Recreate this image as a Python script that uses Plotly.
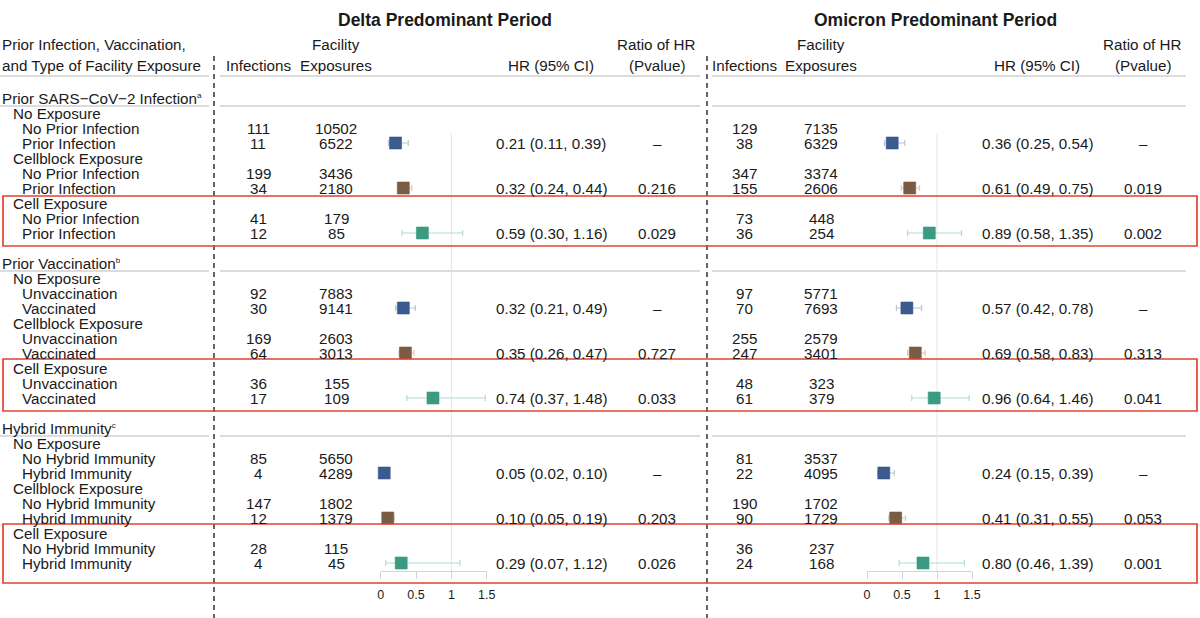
import plotly.graph_objects as go

# ---------------- data ----------------
block_titles = ["Prior SARS−CoV−2 Infection", "Prior Vaccination", "Hybrid Immunity"]
block_sups = ["a", "b", "c"]
exposure_types = ["No Exposure", "Cellblock Exposure", "Cell Exposure"]
level_labels = [["No Prior Infection", "Prior Infection"],
                ["Unvaccination", "Vaccinated"],
                ["No Hybrid Immunity", "Hybrid Immunity"]]

delta_infections = [[111, 11, 199, 34, 41, 12],
                    [92, 30, 169, 64, 36, 17],
                    [85, 4, 147, 12, 28, 4]]
delta_exposures = [[10502, 6522, 3436, 2180, 179, 85],
                   [7883, 9141, 2603, 3013, 155, 109],
                   [5650, 4289, 1802, 1379, 115, 45]]
delta_hr = [[0.21, 0.32, 0.59], [0.32, 0.35, 0.74], [0.05, 0.10, 0.29]]
delta_lo = [[0.11, 0.24, 0.30], [0.21, 0.26, 0.37], [0.02, 0.05, 0.07]]
delta_hi = [[0.39, 0.44, 1.16], [0.49, 0.47, 1.48], [0.10, 0.19, 1.12]]
delta_ratio = [["–", "0.216", "0.029"], ["–", "0.727", "0.033"], ["–", "0.203", "0.026"]]

omicron_infections = [[129, 38, 347, 155, 73, 36],
                      [97, 70, 255, 247, 48, 61],
                      [81, 22, 190, 90, 36, 24]]
omicron_exposures = [[7135, 6329, 3374, 2606, 448, 254],
                     [5771, 7693, 2579, 3401, 323, 379],
                     [3537, 4095, 1702, 1729, 237, 168]]
omicron_hr = [[0.36, 0.61, 0.89], [0.57, 0.69, 0.96], [0.24, 0.41, 0.80]]
omicron_lo = [[0.25, 0.49, 0.58], [0.42, 0.58, 0.64], [0.15, 0.31, 0.46]]
omicron_hi = [[0.54, 0.75, 1.35], [0.78, 0.83, 1.46], [0.39, 0.55, 1.39]]
omicron_ratio = [["–", "0.019", "0.002"], ["–", "0.313", "0.041"], ["–", "0.053", "0.001"]]

tick_vals = [0, 0.5, 1, 1.5]
tick_text = ["0", "0.5", "1", "1.5"]

# ---------------- styles ----------------
W, H = 1200, 618
FONT = "Liberation Sans, Arial, Helvetica, sans-serif"
TXT = "#1a1a1a"
BODY = 15.2
marker_colors = ["#3b5a8e", "#7a5c44", "#3b9a82"]
ci_colors = ["#b9c5d6", "#dcc8b0", "#b3dcd1"]
grid_gray = "#dcdcdc"
red = "#e4432e"


def row_y(k):
    return 98 + 15 * k


periods = [
    dict(title="Delta Predominant Period", title_x=445, inf_x=258, exp_x=336, hr_x=551, ratio_x=657,
         infections=delta_infections, exposures=delta_exposures, hr=delta_hr, lo=delta_lo, hi=delta_hi,
         ratio=delta_ratio, axis="x"),
    dict(title="Omicron Predominant Period", title_x=935, inf_x=744, exp_x=821, hr_x=1037, ratio_x=1143,
         infections=omicron_infections, exposures=omicron_exposures, hr=omicron_hr, lo=omicron_lo, hi=omicron_hi,
         ratio=omicron_ratio, axis="x2"),
]

fig = go.Figure()
annotations = []
shapes = []


def text(x, y, s, anchor="center", size=BODY, bold=False):
    annotations.append(dict(
        x=x / W, xref="paper", y=y, yref="y", text=f"<b>{s}</b>" if bold else s,
        showarrow=False, xanchor=anchor, yanchor="middle", borderpad=0,
        font=dict(family=FONT, size=size, color=TXT)))


# left headers
text(1, 44, "Prior Infection, Vaccination,", "left")
text(1, 65, "and Type of Facility Exposure", "left")

# left labels
for b in range(3):
    base = b * 11
    text(1, row_y(base),
         f"{block_titles[b]}<sup><span style='font-size:8px'>{block_sups[b]}</span></sup>", "left")
    for g in range(3):
        text(12, row_y(base + 1 + g * 3), exposure_types[g], "left")
        text(21, row_y(base + 2 + g * 3), level_labels[b][0], "left")
        text(21, row_y(base + 3 + g * 3), level_labels[b][1], "left")

for p in periods:
    text(p["title_x"], 20, p["title"], size=17.5, bold=True)
    text(p["exp_x"], 44, "Facility")
    text(p["inf_x"], 65, "Infections")
    text(p["exp_x"], 65, "Exposures")
    text(p["hr_x"], 65, "HR (95% CI)")
    text(p["ratio_x"] - 1, 44, "Ratio of HR")
    text(p["ratio_x"], 65, "(Pvalue)")
    for b in range(3):
        base = b * 11
        for g in range(3):
            for j in range(2):
                k = base + 2 + g * 3 + j
                text(p["inf_x"], row_y(k), str(p["infections"][b][g * 2 + j]))
                text(p["exp_x"], row_y(k), str(p["exposures"][b][g * 2 + j]))
            k = base + 3 + g * 3
            hr, lo, hi = p["hr"][b][g], p["lo"][b][g], p["hi"][b][g]
            text(p["hr_x"], row_y(k), f"{hr:.2f} ({lo:.2f}, {hi:.2f})")
            text(p["ratio_x"], row_y(k), p["ratio"][b][g])

    # forest markers
    for g in range(3):
        xs = [p["hr"][b][g] for b in range(3)]
        ys = [row_y(b * 11 + 3 + g * 3) for b in range(3)]
        plus = [p["hi"][b][g] - p["hr"][b][g] for b in range(3)]
        minus = [p["hr"][b][g] - p["lo"][b][g] for b in range(3)]
        fig.add_trace(go.Scatter(
            x=xs, y=ys, mode="markers", xaxis=p["axis"], yaxis="y",
            marker=dict(symbol="square", size=12, color=marker_colors[g],
                        line=dict(width=0.6, color=marker_colors[g])),
            error_x=dict(type="data", array=plus, arrayminus=minus, symmetric=False,
                         color=ci_colors[g], thickness=1.2, width=3),
            cliponaxis=False, showlegend=False, hoverinfo="skip"))

    # reference line at HR = 1
    shapes.append(dict(type="line", xref=p["axis"], yref="y", x0=1, x1=1, y0=133, y1=571,
                       line=dict(color="#e6e6e6", width=1), layer="below"))

# gray separator lines
for y in [76, 106, 271, 436]:
    for xa, xb in [(0, 209), (220, 700), (712, 1186)]:
        shapes.append(dict(type="line", xref="paper", yref="y", x0=xa / W, x1=xb / W, y0=y, y1=y,
                           line=dict(color=grid_gray, width=2), layer="below"))

# dashed vertical dividers
for x in [214, 707]:
    shapes.append(dict(type="line", xref="paper", yref="y", x0=x / W, x1=x / W, y0=56, y1=618,
                       line=dict(color="#333333", width=1.5, dash="5px,4px")))

# red highlight boxes around cell exposure groups
for y0, y1 in [(196, 246), (359, 411), (524, 583)]:
    shapes.append(dict(type="rect", xref="paper", yref="y", x0=3 / W, x1=1197 / W, y0=y0, y1=y1,
                       line=dict(color=red, width=1.7), fillcolor="rgba(0,0,0,0)"))

axis_common = dict(range=[0, 1.5], anchor="free", position=1 - 571 / H, showgrid=False, zeroline=False,
                   showline=True, linecolor="#cfd6da", linewidth=1, ticks="outside", ticklen=7,
                   tickcolor="#cfd6da", tickwidth=1, tickvals=tick_vals, ticktext=tick_text,
                   tickfont=dict(family=FONT, size=12.5, color=TXT), ticklabelstandoff=5, fixedrange=True)

fig.update_layout(
    width=W, height=H, margin=dict(l=0, r=0, t=0, b=0, autoexpand=False),
    autosize=False,
    paper_bgcolor="white", plot_bgcolor="rgba(0,0,0,0)",
    xaxis=dict(domain=[380.7 / W, 486.7 / W], **axis_common),
    xaxis2=dict(domain=[867 / W, 972 / W], **axis_common),
    yaxis=dict(range=[H, 0], domain=[0, 1], visible=False, fixedrange=True),
    annotations=annotations, shapes=shapes, showlegend=False,
)

fig.write_html("out.html",
               config={"displayModeBar": False, "responsive": False, "staticPlot": True},
               post_script="document.documentElement.style.margin='0';document.body.style.margin='0';"
                           "document.body.style.padding='0';document.body.style.overflow='hidden';"
                           "document.documentElement.style.overflow='hidden';")
